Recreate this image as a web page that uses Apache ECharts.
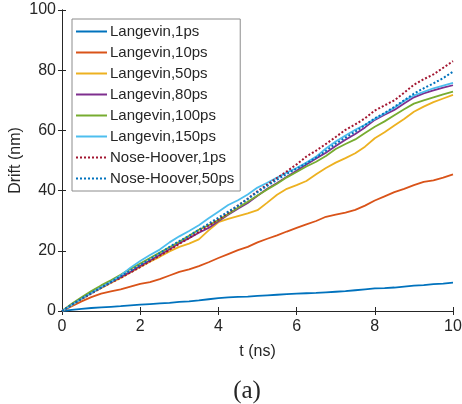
<!DOCTYPE html>
<html>
<head>
<meta charset="utf-8">
<script src="https://cdn.jsdelivr.net/npm/echarts@6/dist/echarts.min.js"></script>
<style>
  html, body { margin: 0; padding: 0; background: #fff; }
  #chart { width: 462px; height: 404px; }
</style>
</head>
<body>
<div id="chart"></div>
<script>
// Time samples (ns)
const times = [0, 0.25, 0.5, 0.75, 1, 1.25, 1.5, 1.75, 2, 2.25, 2.5, 2.75, 3, 3.25, 3.5, 3.75,
  4, 4.25, 4.5, 4.75, 5, 5.25, 5.5, 5.75, 6, 6.25, 6.5, 6.75, 7, 7.25, 7.5, 7.75,
  8, 8.25, 8.5, 8.75, 9, 9.25, 9.5, 9.75, 10];

// Drift (nm) for each thermostat setting
const langevin1 = [0, 0.4, 0.7, 1.0, 1.2, 1.4, 1.6, 1.9, 2.1, 2.3, 2.5, 2.7, 3.0, 3.2, 3.5, 3.9,
  4.3, 4.5, 4.7, 4.8, 5.0, 5.2, 5.4, 5.6, 5.8, 5.9, 6.0, 6.2, 6.4, 6.6, 6.9, 7.2,
  7.5, 7.6, 7.8, 8.1, 8.4, 8.6, 8.9, 9.1, 9.4];
const langevin10 = [0, 1.6, 3.2, 4.6, 5.8, 6.5, 7.2, 8.1, 9.0, 9.6, 10.6, 11.8, 13.0, 13.8, 14.9, 16.2,
  17.6, 18.9, 20.2, 21.3, 22.8, 24.0, 25.1, 26.4, 27.6, 28.8, 29.9, 31.3, 32.0, 32.7, 33.6, 35.0,
  36.7, 38.1, 39.5, 40.6, 41.8, 42.9, 43.4, 44.3, 45.4];
const langevin50 = [0, 1.9, 3.9, 6.0, 7.6, 9.3, 11.0, 12.8, 14.6, 16.4, 18.0, 19.8, 21.3, 22.4, 23.8, 26.8,
  29.5, 30.6, 31.5, 32.4, 33.5, 36.0, 38.6, 40.6, 41.8, 43.2, 45.4, 47.5, 49.3, 50.8, 52.4, 54.6,
  57.4, 59.4, 61.6, 63.8, 66.2, 67.9, 69.4, 70.6, 71.8];
const langevin80 = [0, 2.2, 4.3, 6.0, 7.8, 9.6, 11.3, 13.0, 15.0, 16.8, 18.6, 20.5, 22.5, 24.2, 26.0, 27.6,
  29.8, 32.0, 34.0, 35.9, 38.3, 40.6, 42.5, 44.6, 46.6, 48.7, 50.7, 52.6, 54.8, 56.9, 58.8, 61.0,
  63.5, 65.2, 66.8, 68.9, 71.0, 72.3, 73.3, 74.2, 75.0];
const langevin100 = [0, 2.4, 4.6, 6.6, 8.5, 10.2, 12.0, 14.0, 15.8, 17.6, 19.4, 21.2, 23.0, 25.0, 27.0, 28.5,
  30.2, 32.2, 34.3, 36.3, 38.4, 40.4, 42.3, 44.4, 46.2, 48.0, 49.6, 51.5, 53.8, 55.5, 57.0, 59.1,
  61.2, 63.0, 65.0, 67.0, 68.9, 70.0, 71.0, 72.0, 72.9];
const langevin150 = [0, 2.0, 4.0, 5.9, 7.9, 9.6, 11.8, 14.4, 16.6, 18.6, 20.4, 22.8, 24.8, 26.6, 28.5, 30.8,
  33.0, 35.2, 36.8, 38.7, 41.0, 42.6, 44.3, 46.0, 47.5, 49.3, 51.3, 54.0, 56.3, 58.3, 60.2, 61.9,
  63.8, 65.6, 67.5, 69.8, 71.6, 72.8, 74.0, 74.9, 75.8];
const noseHoover1 = [0, 2.0, 4.0, 5.8, 7.7, 9.4, 11.0, 12.8, 14.6, 16.5, 18.4, 20.3, 22.3, 24.2, 26.3, 28.4,
  30.4, 32.6, 35.0, 37.3, 39.8, 42.0, 44.2, 46.4, 48.7, 51.3, 53.3, 55.5, 57.8, 60.2, 62.0, 64.0,
  66.6, 68.3, 70.0, 72.5, 75.2, 77.0, 78.6, 80.8, 83.0];
const noseHoover50 = [0, 2.1, 4.1, 6.0, 7.8, 9.7, 11.5, 13.4, 15.3, 17.2, 19.2, 21.3, 23.2, 25.0, 27.0, 29.0,
  31.0, 33.0, 35.0, 37.2, 39.5, 41.6, 43.6, 45.6, 47.3, 49.0, 51.0, 53.2, 55.6, 57.6, 59.6, 61.8,
  64.0, 65.8, 67.8, 70.0, 72.2, 74.0, 75.6, 77.4, 79.5];

const seriesNames = ['Langevin,1ps', 'Langevin,10ps', 'Langevin,50ps', 'Langevin,80ps',
  'Langevin,100ps', 'Langevin,150ps', 'Nose-Hoover,1ps', 'Nose-Hoover,50ps'];
const seriesValues = [langevin1, langevin10, langevin50, langevin80,
  langevin100, langevin150, noseHoover1, noseHoover50];
const seriesColors = ['#0072BD', '#D95319', '#EDB120', '#7E2F8E',
  '#77AC30', '#4DBEEE', '#A2142F', '#0072BD'];
const seriesDotted = [false, false, false, false, false, false, true, true];

const xTicks = [0, 2, 4, 6, 8, 10];
const yTicks = [0, 20, 40, 60, 80, 100];

const FONT = 'Liberation Sans, Arial, sans-serif';
const INK = '#262626';

const series = seriesNames.map((name, i) => ({
  name: name,
  type: 'line',
  xAxisIndex: 0,
  yAxisIndex: 0,
  symbol: 'none',
  smooth: false,
  z: seriesDotted[i] ? 4 : 3,
  lineStyle: {
    color: seriesColors[i],
    width: seriesDotted[i] ? 2 : 1.8,
    type: seriesDotted[i] ? [2, 2] : 'solid'
  },
  itemStyle: { color: seriesColors[i] },
  data: times.map((t, k) => [t, seriesValues[i][k]])
}));

const axisCommon = {
  type: 'value',
  axisLine: { show: true, lineStyle: { color: INK, width: 1 } },
  axisTick: { show: true, inside: true, length: 4, lineStyle: { color: INK } },
  splitLine: { show: false }
};

const chart = echarts.init(document.getElementById('chart'), null, { renderer: 'canvas' });
chart.setOption({
  animation: false,
  backgroundColor: '#fff',
  grid: { left: 62, right: 9, top: 10, bottom: 93, containLabel: false, outerBoundsMode: 'none' },
  title: {
    text: '(a)',
    left: 242,
    top: 374,
    textAlign: 'center',
    textStyle: { fontFamily: 'Liberation Serif, DejaVu Serif, serif', fontSize: 25, fontWeight: 'normal', color: INK }
  },
  legend: {
    orient: 'vertical',
    left: 72,
    top: 19,
    data: seriesNames,
    itemWidth: 31,
    itemHeight: 14,
    itemGap: 6,
    padding: [5, 6, 5, 3],
    borderColor: '#8c8c8c',
    borderWidth: 1,
    backgroundColor: '#fff',
    itemStyle: { opacity: 0, borderWidth: 0 },
    lineStyle: { width: 2 },
    textStyle: { fontFamily: FONT, fontSize: 15, color: INK, lineHeight: 14, padding: [0, 0, 0, -2] }
  },
  xAxis: [
    Object.assign({}, axisCommon, {
      position: 'bottom', min: 0, max: 10, interval: 2,
      name: 't (ns)', nameLocation: 'middle', nameGap: 33, nameMoveOverlap: false,
      nameTextStyle: { fontFamily: FONT, fontSize: 16, color: INK },
      axisLabel: { fontFamily: FONT, fontSize: 16, color: INK, margin: 8,
        formatter: v => xTicks.indexOf(v) >= 0 ? String(v) : '' }
    }),
    Object.assign({}, axisCommon, {
      position: 'top', min: 0, max: 10, interval: 2,
      axisLabel: { show: false }
    })
  ],
  yAxis: [
    Object.assign({}, axisCommon, {
      position: 'left', min: 0, max: 100, interval: 20,
      name: 'Drift (nm)', nameLocation: 'middle', nameGap: 38, nameMoveOverlap: false,
      nameTextStyle: { fontFamily: FONT, fontSize: 16, color: INK },
      axisLabel: { fontFamily: FONT, fontSize: 16, color: INK, margin: 6,
        formatter: v => yTicks.indexOf(v) >= 0 ? String(v) : '' }
    }),
    Object.assign({}, axisCommon, {
      position: 'right', min: 0, max: 100, interval: 20,
      axisLabel: { show: false }
    })
  ],
  series: series
});
</script>
</body>
</html>
